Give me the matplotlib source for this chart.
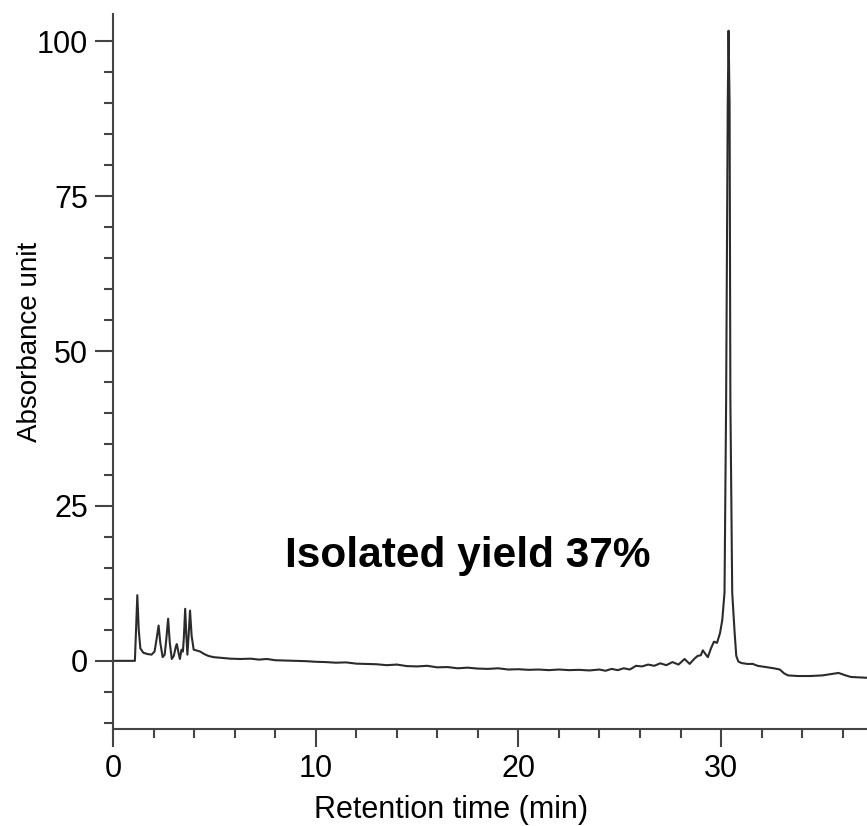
import matplotlib
matplotlib.use('Agg')
import matplotlib.pyplot as plt
from matplotlib.ticker import MultipleLocator

plt.rcParams['font.family'] = ['Liberation Sans', 'DejaVu Sans']

# chromatogram trace: retention time (min), absorbance
time = [0.0, 1.08, 1.15, 1.2, 1.27, 1.35, 1.5, 1.7, 1.9, 2.05, 2.15, 2.25, 2.33, 2.45,
        2.55, 2.63, 2.72, 2.8, 2.9, 3.0, 3.1, 3.15, 3.22, 3.3, 3.38, 3.45, 3.5, 3.56,
        3.62, 3.67, 3.73, 3.8, 3.88, 3.98, 4.1, 4.3, 4.5, 4.7, 4.95, 5.3, 5.6, 5.8,
        6.3, 6.8, 7.2, 7.6, 8.0, 8.5, 9.0, 9.5, 10.0, 10.5, 11.0, 11.5, 12.0, 12.5,
        13.0, 13.5, 14.0, 14.5, 15.0, 15.5, 16.0, 16.5, 17.0, 17.5, 18.0, 18.5, 19.0,
        19.5, 20.0, 20.5, 21.0, 21.5, 22.0, 22.5, 23.0, 23.5, 24.0, 24.3, 24.6, 24.9,
        25.2, 25.5, 25.8, 26.1, 26.4, 26.7, 27.0, 27.3, 27.6, 27.9, 28.2, 28.45, 28.7,
        28.85, 29.0, 29.1, 29.25, 29.35, 29.5, 29.65, 29.8, 29.95, 30.06, 30.17, 30.25,
        30.33, 30.37, 30.42, 30.46, 30.55, 30.67, 30.75, 30.85, 31.0, 31.3, 31.57, 31.8,
        32.2, 32.6, 32.9, 33.1, 33.3, 33.8, 34.4, 35.0, 35.5, 35.8, 36.1, 36.4, 37.3]
absorbance = [0.0, 0.0, 6.0, 10.6, 5.0, 2.0, 1.3, 1.1, 1.0, 1.5, 3.5, 5.7, 3.0, 0.6,
              1.0, 3.5, 6.8, 3.0, 0.3, 0.8, 2.3, 2.7, 1.5, 0.3, 1.8, 1.5, 4.0, 8.4,
              4.0, 1.0, 4.0, 8.1, 4.0, 1.8, 1.7, 1.5, 1.1, 0.8, 0.6, 0.5, 0.4, 0.35,
              0.3, 0.35, 0.2, 0.3, 0.1, 0.05, 0.0, -0.05, -0.15, -0.2, -0.3, -0.25, -0.45, -0.5,
              -0.55, -0.7, -0.6, -0.85, -0.9, -0.8, -1.05, -1.0, -1.2, -1.1, -1.25, -1.3, -1.2,
              -1.4, -1.35, -1.45, -1.4, -1.5, -1.4, -1.5, -1.45, -1.55, -1.4, -1.6, -1.3, -1.5,
              -1.2, -1.4, -0.8, -0.9, -0.6, -0.8, -0.4, -0.7, -0.2, -0.6, 0.3, -0.5, 0.4,
              0.8, 0.9, 1.7, 1.0, 0.6, 2.0, 3.1, 2.9, 4.5, 6.6, 11.0, 42.0,
              90.0, 101.7, 90.0, 42.0, 11.0, 4.5, 0.8, -0.1, -0.35, -0.5, -0.5, -0.8,
              -1.0, -1.2, -1.4, -2.0, -2.35, -2.45, -2.45, -2.35, -2.1, -1.95, -2.3, -2.6, -2.75]

y_ticks = [0, 25, 50, 75, 100]
x_ticks = [0, 10, 20, 30]

fig = plt.figure(figsize=(8.67, 8.26), dpi=100)
ax = fig.add_axes([113 / 867, 1 - 729 / 826, 1 - 113 / 867, (729 - 14) / 826])

ax.plot(time, absorbance, color='#2b2b2b', lw=1.5)

ax.set_xlim(0, 37.2)
ax.set_ylim(-11, 104.4)
ax.set_xticks(x_ticks)
ax.set_yticks(y_ticks)
ax.xaxis.set_minor_locator(MultipleLocator(2))
ax.yaxis.set_minor_locator(MultipleLocator(5))

for side in ['top', 'right']:
    ax.spines[side].set_visible(False)
for side in ['left', 'bottom']:
    ax.spines[side].set_linewidth(1.5)
    ax.spines[side].set_color('#444444')

ax.tick_params(which='major', length=13, width=1.5, color='#444444', labelsize=22, pad=5)
ax.tick_params(which='minor', length=6.5, width=1.5, color='#444444')

fig.text(451 / 867, 1 - 810 / 826, 'Retention time (min)', fontsize=22,
         ha='center', va='center')
fig.text(30 / 867, 1 - 342 / 826, 'Absorbance unit', fontsize=20,
         ha='center', va='center', rotation=90)

ax.text(8.49, 15.2, 'Isolated yield 37%', fontsize=30.5, fontweight='bold',
        ha='left', va='baseline')

plt.savefig('out.png', dpi=100)
